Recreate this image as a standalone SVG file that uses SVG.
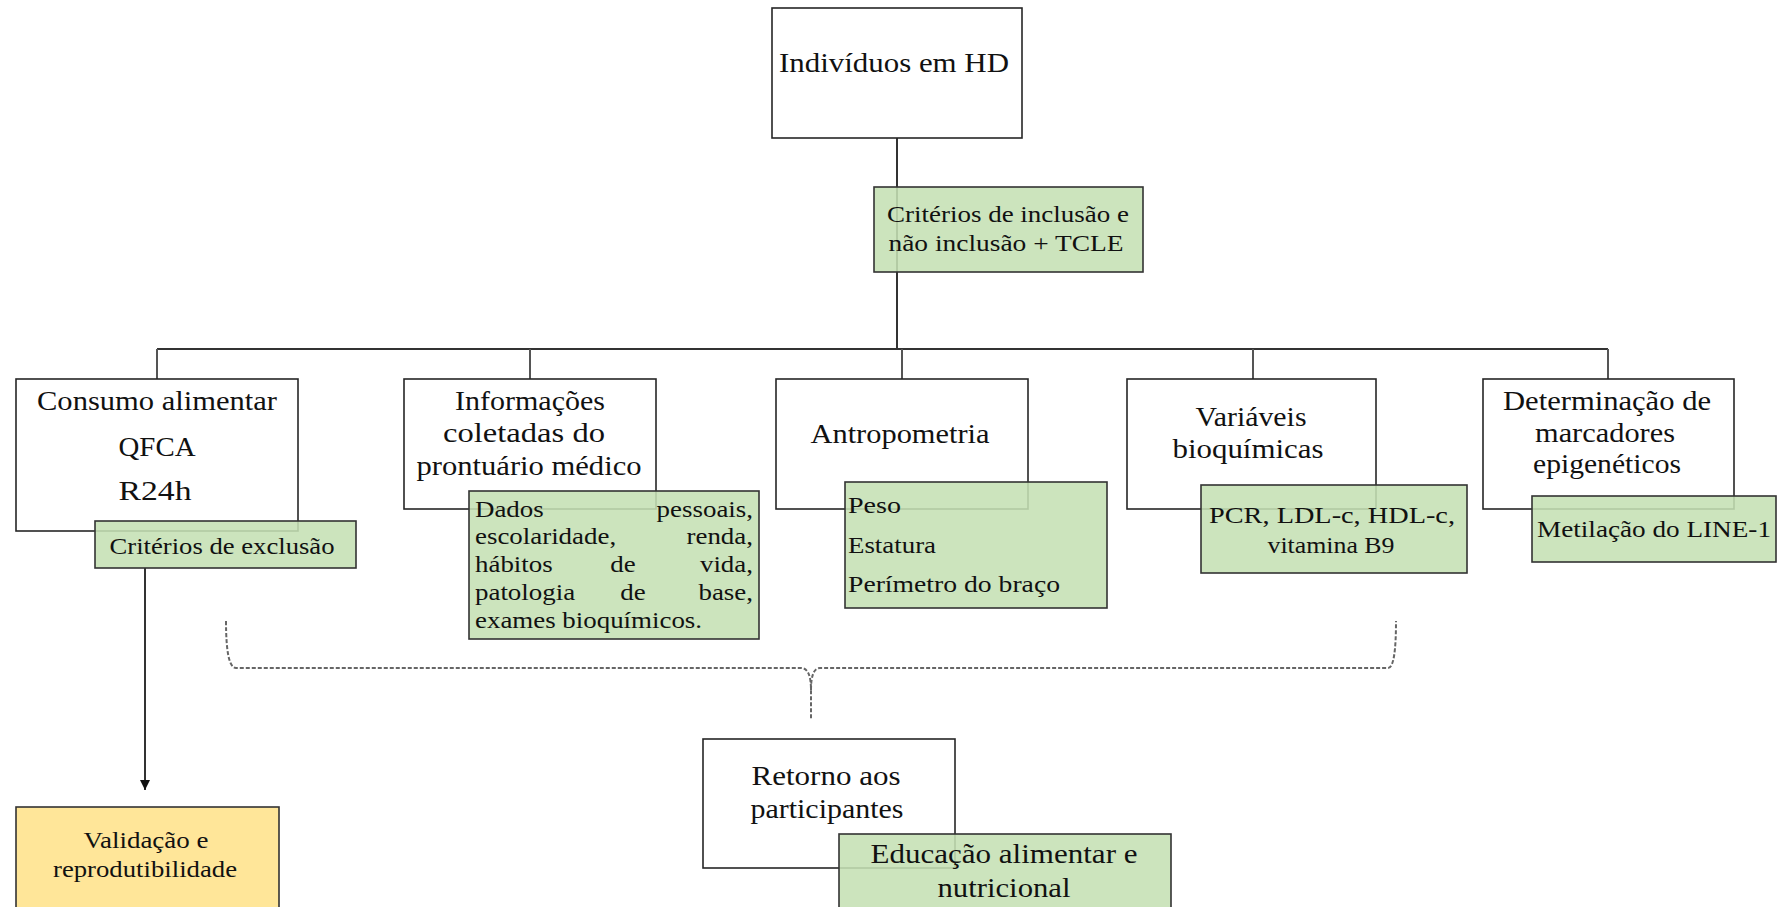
<svg xmlns="http://www.w3.org/2000/svg" width="1778" height="907" viewBox="0 0 1778 907">
<style>
text{font-family:"Liberation Serif","Times New Roman",serif;fill:#111;}
.c{text-anchor:middle;}
.e{text-anchor:end;}
.box{fill:#fff;stroke:#262626;stroke-width:1.6;}
.g{fill:#C5E0B4;fill-opacity:0.88;stroke:#333;stroke-width:1.6;}
.y{fill:#FFE699;stroke:#333;stroke-width:1.6;}
.m{font-size:27px;}
.s{font-size:24px;}
.t{font-size:23px;}
.ln{stroke:#333;stroke-width:2;fill:none;}
.br{stroke:#555;stroke-width:2;fill:none;}
.d{stroke:#666;stroke-width:2;fill:none;stroke-dasharray:4 2;}
</style>
<defs>
<marker id="ah" viewBox="0 0 10 10" refX="10" refY="5" markerWidth="10" markerHeight="10" markerUnits="userSpaceOnUse" orient="auto">
<path d="M0,0 L10,5 L0,10 z" fill="#111"/>
</marker>
</defs>
<g id="connectors">
<line class="ln" x1="897" y1="138" x2="897" y2="349"/>
<line class="ln" x1="157" y1="349" x2="1608" y2="349"/>
<line class="br" x1="157" y1="349" x2="157" y2="379"/>
<line class="br" x1="530" y1="349" x2="530" y2="379"/>
<line class="br" x1="902" y1="349" x2="902" y2="379"/>
<line class="br" x1="1253" y1="349" x2="1253" y2="379"/>
<line class="br" x1="1608" y1="349" x2="1608" y2="379"/>
<line class="ln" x1="145" y1="568" x2="145" y2="790" marker-end="url(#ah)" stroke-width="1.6"/>
<path class="d" d="M226,621 Q226,668 236,668 L801,668 Q811,668 811,690 L811,720 M811,690 Q811,668 820,668 L1388,668 Q1396,668 1396,621"/>
</g>
<g id="n-individuos">
<rect class="box" x="772" y="8" width="250" height="130"/>
<text class="c" x="894" y="72" font-size="28" textLength="230" lengthAdjust="spacingAndGlyphs">Indivíduos  em HD</text>
</g>
<g id="n-criterios-inclusao">
<rect class="g" x="874" y="187" width="269" height="85"/>
<text class="c s" x="1008" y="222" textLength="242" lengthAdjust="spacingAndGlyphs">Critérios  de inclusão e</text>
<text class="c s" x="1006" y="251" textLength="235" lengthAdjust="spacingAndGlyphs">não inclusão + TCLE</text>
</g>
<g id="n-consumo">
<rect class="box" x="16" y="379" width="282" height="152"/>
<text class="c m" x="157" y="410" textLength="240" lengthAdjust="spacingAndGlyphs">Consumo alimentar</text>
<text class="c m" x="157" y="456" textLength="77" lengthAdjust="spacingAndGlyphs">QFCA</text>
<text class="c m" x="155" y="500" textLength="73" lengthAdjust="spacingAndGlyphs">R24h</text>
</g>
<g id="n-criterios-exclusao">
<rect class="g" x="95" y="521" width="261" height="47"/>
<text class="c s" x="222" y="554" textLength="225" lengthAdjust="spacingAndGlyphs">Critérios  de exclusão</text>
</g>
<g id="n-informacoes">
<rect class="box" x="404" y="379" width="252" height="130"/>
<text class="c m" x="530" y="410" textLength="150" lengthAdjust="spacingAndGlyphs">Informações</text>
<text class="c m" x="524" y="442" textLength="162" lengthAdjust="spacingAndGlyphs">coletadas  do</text>
<text class="c m" x="529" y="475" textLength="225" lengthAdjust="spacingAndGlyphs">prontuário médico</text>
</g>
<g id="n-dados">
<rect class="g" x="469" y="491" width="290" height="148"/>
<g transform="translate(475,0) scale(1.17,1)" font-size="23">
<text x="0" y="517">Dados</text><text class="e" x="237.6" y="517">pessoais,</text>
<text x="0" y="544">escolaridade,</text><text class="e" x="237.6" y="544">renda,</text>
<text x="0" y="572">hábitos</text><text class="c" x="126.5" y="572">de</text><text class="e" x="237.6" y="572">vida,</text>
<text x="0" y="600">patologia</text><text class="c" x="135" y="600">de</text><text class="e" x="237.6" y="600">base,</text>
<text x="0" y="628">exames bioquímicos.</text>
</g>
</g>
<g id="n-antropometria">
<rect class="box" x="776" y="379" width="252" height="130"/>
<text class="c m" x="900" y="443" textLength="179" lengthAdjust="spacingAndGlyphs">Antropometria</text>
</g>
<g id="n-medidas">
<rect class="g" x="845" y="482" width="262" height="126"/>
<text class="s" x="848" y="513" textLength="53" lengthAdjust="spacingAndGlyphs">Peso</text>
<text class="s" x="848" y="553" textLength="88" lengthAdjust="spacingAndGlyphs">Estatura</text>
<text class="s" x="848" y="592" textLength="212" lengthAdjust="spacingAndGlyphs">Perímetro do braço</text>
</g>
<g id="n-variaveis">
<rect class="box" x="1127" y="379" width="249" height="130"/>
<text class="c m" x="1251" y="426" textLength="111" lengthAdjust="spacingAndGlyphs">Variáveis</text>
<text class="c m" x="1248" y="458" textLength="151" lengthAdjust="spacingAndGlyphs">bioquímicas</text>
</g>
<g id="n-pcr">
<rect class="g" x="1201" y="485" width="266" height="88"/>
<text class="c s" x="1332" y="523" textLength="246" lengthAdjust="spacingAndGlyphs">PCR, LDL-c, HDL-c,</text>
<text class="c s" x="1331" y="553" textLength="127" lengthAdjust="spacingAndGlyphs">vitamina  B9</text>
</g>
<g id="n-determinacao">
<rect class="box" x="1483" y="379" width="251" height="130"/>
<text class="c m" x="1607" y="410" textLength="208" lengthAdjust="spacingAndGlyphs">Determinação  de</text>
<text class="c m" x="1605" y="442" textLength="140" lengthAdjust="spacingAndGlyphs">marcadores</text>
<text class="c m" x="1607" y="473" textLength="148" lengthAdjust="spacingAndGlyphs">epigenéticos</text>
</g>
<g id="n-metilacao">
<rect class="g" x="1532" y="496" width="244" height="66"/>
<text class="c s" x="1654" y="537" textLength="234" lengthAdjust="spacingAndGlyphs">Metilação  do LINE-1</text>
</g>
<g id="n-validacao">
<rect class="y" x="16" y="807" width="263" height="110"/>
<text class="c t" x="146" y="848" textLength="125" lengthAdjust="spacingAndGlyphs">Validação e</text>
<text class="c t" x="145" y="877" textLength="184" lengthAdjust="spacingAndGlyphs">reprodutibilidade</text>
</g>
<g id="n-retorno">
<rect class="box" x="703" y="739" width="252" height="129"/>
<text class="c" x="826" y="785" font-size="28" textLength="149" lengthAdjust="spacingAndGlyphs">Retorno aos</text>
<text class="c" x="827" y="818" font-size="28" textLength="153" lengthAdjust="spacingAndGlyphs">participantes</text>
</g>
<g id="n-educacao">
<rect class="g" x="839" y="834" width="332" height="90"/>
<text class="c" x="1004" y="863" font-size="28" textLength="267" lengthAdjust="spacingAndGlyphs">Educação alimentar e</text>
<text class="c" x="1004" y="897" font-size="28" textLength="133" lengthAdjust="spacingAndGlyphs">nutricional</text>
</g>
</svg>
